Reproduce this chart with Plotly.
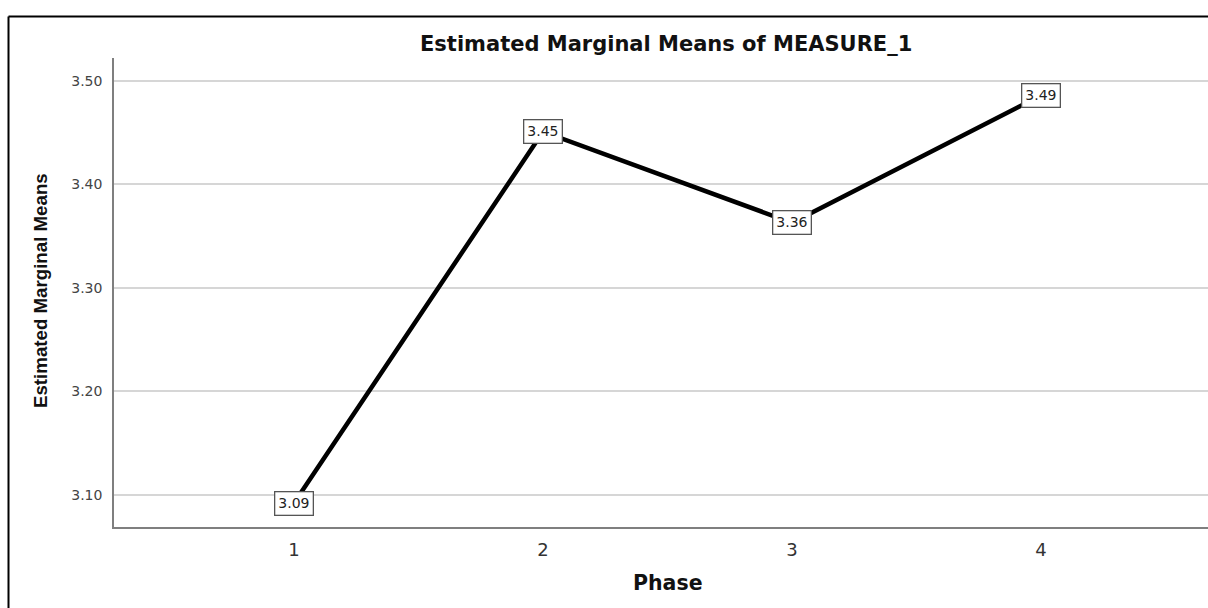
import plotly.graph_objects as go

# Data
phases = [1, 2, 3, 4]
means = [3.092, 3.451, 3.363, 3.486]
y_ticks = [3.10, 3.20, 3.30, 3.40, 3.50]
y_tick_labels = ["3.10", "3.20", "3.30", "3.40", "3.50"]
x_tick_labels = ["1", "2", "3", "4"]
title_text = "Estimated Marginal Means of MEASURE_1"
x_title = "Phase"
y_title = "Estimated Marginal Means"

W, H = 1208, 608
L, R, T, B = 114, 0, 58, 608 - 527
pw, ph = W - L - R, H - T - B

def px(xp):
    return (xp - L) / pw

def py(yp):
    return (527 - yp) / ph

fig = go.Figure()
fig.add_trace(go.Scatter(
    x=phases, y=means, mode="lines",
    line=dict(color="black", width=4.5),
    hoverinfo="skip", showlegend=False,
))

# value labels
for xv, yv in zip(phases, means):
    fig.add_annotation(
        x=xv, y=yv, xref="x", yref="y", text=f"{yv:.2f}", showarrow=False,
        font=dict(family="DejaVu Sans", size=14, color="#222"),
        bgcolor="white", bordercolor="#555", borderwidth=1.3, borderpad=3,
        xanchor="center", yanchor="middle",
    )

# titles
fig.add_annotation(
    x=px(666), y=py(43.5), xref="paper", yref="paper", text=f"<b>{title_text}</b>",
    showarrow=False, xanchor="center", yanchor="middle",
    font=dict(family="DejaVu Sans", size=21, color="#111"),
)
fig.add_annotation(
    x=px(668), y=py(583), xref="paper", yref="paper", text=f"<b>{x_title}</b>",
    showarrow=False, xanchor="center", yanchor="middle",
    font=dict(family="DejaVu Sans", size=20.5, color="#111"),
)
fig.add_annotation(
    x=px(40), y=py(291), xref="paper", yref="paper", text=f"<b>{y_title}</b>",
    showarrow=False, xanchor="center", yanchor="middle", textangle=-90,
    font=dict(family="Liberation Sans", size=18.7, color="#111"),
)

# outer frame (left and top edges)
fig.add_shape(type="line", xref="paper", yref="paper",
              x0=px(8.5), y0=py(16.5), x1=px(8.5), y1=py(620),
              line=dict(color="black", width=2))
fig.add_shape(type="line", xref="paper", yref="paper",
              x0=px(8.5), y0=py(16.5), x1=px(1220), y1=py(16.5),
              line=dict(color="black", width=2))

fig.update_xaxes(
    range=[1 - 180 / 249, 1 + (pw - 180) / 249],
    tickmode="array", tickvals=phases, ticktext=x_tick_labels,
    showgrid=False, zeroline=False,
    showline=True, linecolor="#7f7f7f", linewidth=1.5,
    ticks="", ticklabelstandoff=6,
    tickfont=dict(family="DejaVu Sans", size=18, color="#333"),
)
fig.update_yaxes(
    range=[3.0688, 3.5223],
    tickmode="array", tickvals=y_ticks, ticktext=y_tick_labels,
    showgrid=True, gridcolor="#d6d6d6", gridwidth=1.5, zeroline=False,
    showline=True, linecolor="#7f7f7f", linewidth=1.5,
    ticks="", ticklabelstandoff=7,
    tickfont=dict(family="DejaVu Sans", size=14, color="#444"),
)
fig.update_layout(
    width=W, height=H,
    margin=dict(l=L, r=R, t=T, b=B, pad=0),
    paper_bgcolor="white", plot_bgcolor="white",
    showlegend=False,
)
fig.write_html(
    "out.html",
    config={"displayModeBar": False},
    post_script="document.body.style.margin='0';document.body.style.overflow='hidden';",
)
